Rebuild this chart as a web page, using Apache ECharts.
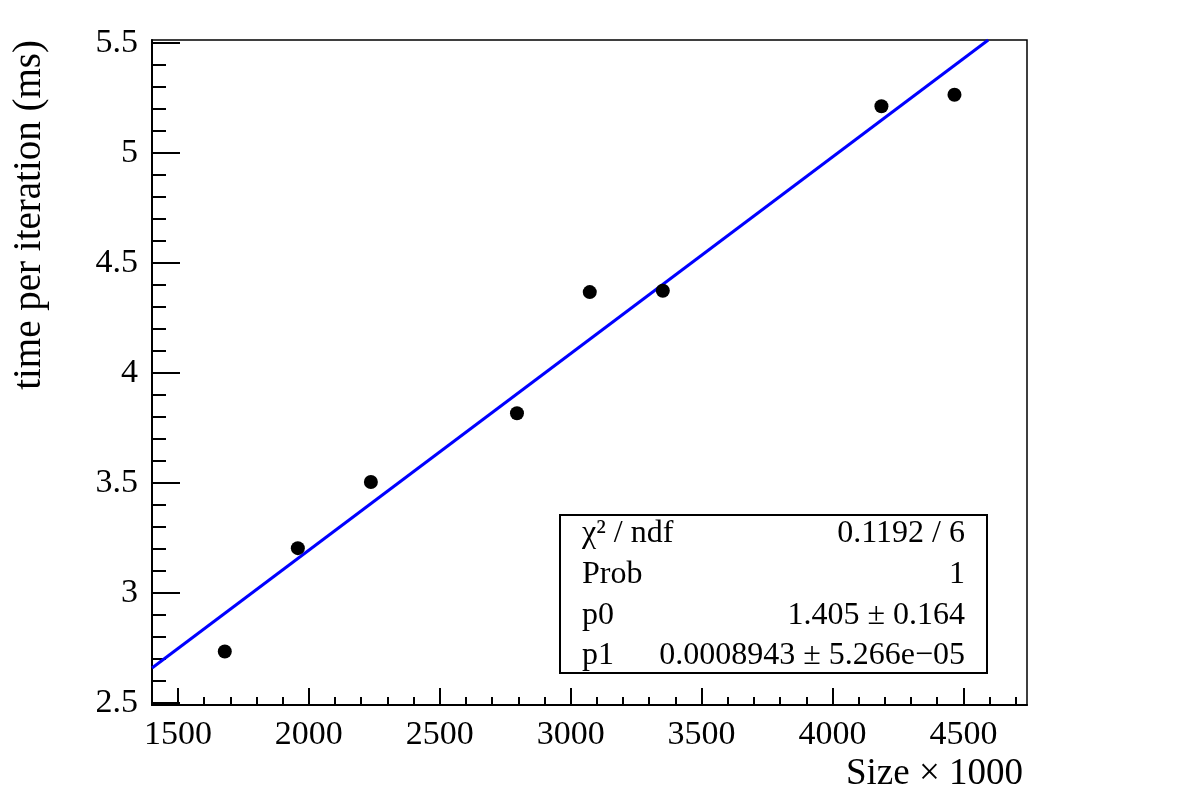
<!DOCTYPE html>
<html>
<head>
<meta charset="utf-8">
<title>time per iteration</title>
<script src="https://cdn.jsdelivr.net/npm/echarts@6/dist/echarts.min.js"></script>
<style>
  html, body { margin: 0; padding: 0; background: #fff; }
  #chart { width: 1182px; height: 805px; }
</style>
</head>
<body>
<div id="chart"></div>
<script>
// measured points (x = size / 1000, y = ms)
const sizes = [1679, 1958, 2237, 2795, 3073, 3352, 4187, 4466];
const times = [2.733, 3.203, 3.504, 3.816, 4.367, 4.373, 5.212, 5.264];

// fitted line, read at the left edge and where it leaves the top of the frame
const fitX = [1401, 4595];
const fitY = [2.658, 5.513];

// stats box rows
const statsLabels = ["χ² / ndf", "Prob", "p0", "p1"];
const statsValues = ["0.1192 / 6", "1", "1.405 ± 0.164", "0.0008943 ± 5.266e−05"];

// axes
const xRange = [1401, 4743];
const yRange = [2.49, 5.513];
const xTicks = [1500, 2000, 2500, 3000, 3500, 4000, 4500];
const xMinorTicks = [1600, 1700, 1800, 1900, 2100, 2200, 2300, 2400, 2600, 2700, 2800, 2900,
  3100, 3200, 3300, 3400, 3600, 3700, 3800, 3900, 4100, 4200, 4300, 4400, 4600, 4700];
const yTicks = [2.5, 3, 3.5, 4, 4.5, 5, 5.5];
const yMinorTicks = [2.6, 2.7, 2.8, 2.9, 3.1, 3.2, 3.3, 3.4, 3.6, 3.7, 3.8, 3.9,
  4.1, 4.2, 4.3, 4.4, 4.6, 4.7, 4.8, 4.9, 5.1, 5.2, 5.3, 5.4];

const serif = "'Liberation Serif', 'DejaVu Serif', serif";

const chart = echarts.init(document.getElementById("chart"));

const statsGraphics = [];
statsLabels.forEach((label, i) => {
  const y = 534 + i * 40.6;
  statsGraphics.push({
    type: "text", x: 582, y: y, z: 11,
    style: { text: label, font: "32px " + serif, fill: "#000", align: "left", verticalAlign: "middle" },
  });
  statsGraphics.push({
    type: "text", x: 965, y: y, z: 11,
    style: { text: statsValues[i], font: "32px " + serif, fill: "#000", align: "right", verticalAlign: "middle" },
  });
});

const option = {
  animation: false,
  backgroundColor: "#fff",
  grid: {
    left: 152, right: 155, top: 40, bottom: 100,
    show: true, borderColor: "#000", borderWidth: 1.5,
  },
  xAxis: [
    {
      type: "value", min: xRange[0], max: xRange[1],
      splitLine: { show: false },
      axisLine: { show: true, onZero: false, lineStyle: { color: "#000", width: 2 } },
      axisTick: { show: true, inside: true, length: 17, customValues: xTicks, lineStyle: { color: "#000", width: 2 } },
      axisLabel: {
        customValues: xTicks, margin: 13, color: "#000", fontSize: 34, fontFamily: serif,
        formatter: (v) => String(v),
      },
    },
    {
      // minor ticks only
      type: "value", min: xRange[0], max: xRange[1], position: "bottom",
      splitLine: { show: false },
      axisLine: { show: false },
      axisTick: { show: true, inside: true, length: 8, customValues: xMinorTicks, lineStyle: { color: "#000", width: 2 } },
      axisLabel: { show: false },
    },
  ],
  yAxis: [
    {
      type: "value", min: yRange[0], max: yRange[1],
      splitLine: { show: false },
      axisLine: { show: true, onZero: false, lineStyle: { color: "#000", width: 2 } },
      axisTick: { show: true, inside: true, length: 28, customValues: yTicks, lineStyle: { color: "#000", width: 2 } },
      axisLabel: {
        customValues: yTicks, margin: 14, color: "#000", fontSize: 34, fontFamily: serif,
        formatter: (v) => String(v),
      },
    },
    {
      type: "value", min: yRange[0], max: yRange[1], position: "left",
      splitLine: { show: false },
      axisLine: { show: false },
      axisTick: { show: true, inside: true, length: 14, customValues: yMinorTicks, lineStyle: { color: "#000", width: 2 } },
      axisLabel: { show: false },
    },
  ],
  series: [
    {
      type: "line",
      data: fitX.map((x, i) => [x, fitY[i]]),
      showSymbol: false,
      clip: true,
      lineStyle: { color: "#0000ff", width: 3 },
      z: 2,
    },
    {
      type: "scatter",
      data: sizes.map((s, i) => [s, times[i]]),
      symbol: "circle",
      symbolSize: 14,
      itemStyle: { color: "#000", opacity: 1 },
      z: 3,
    },
  ],
  graphic: [
    {
      type: "rect", z: 10,
      shape: { x: 560, y: 515, width: 427, height: 158 },
      style: { fill: "#fff", stroke: "#000", lineWidth: 2 },
    },
    ...statsGraphics,
    {
      type: "text", x: 30, y: 40, rotation: Math.PI / 2,
      style: { text: "time per iteration (ms)", font: "39px " + serif, fill: "#000", align: "right", verticalAlign: "middle" },
    },
    {
      type: "text", x: 1023, y: 774,
      style: { text: "Size × 1000", font: "37px " + serif, fill: "#000", align: "right", verticalAlign: "middle" },
    },
  ],
};

chart.setOption(option);
</script>
</body>
</html>
